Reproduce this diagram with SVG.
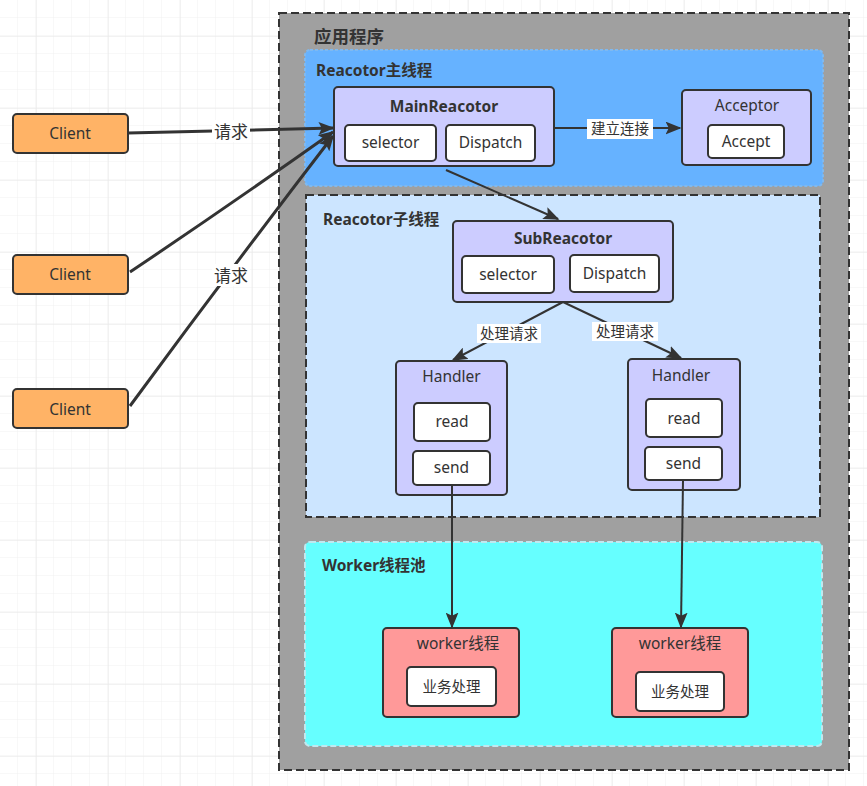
<svg xmlns="http://www.w3.org/2000/svg" width="867" height="786" viewBox="0 0 867 786">
<defs>
<pattern id="minor" width="18" height="18" patternUnits="userSpaceOnUse">
<path d="M18 0 V18 M0 18 H18" fill="none" stroke="#f0f0f0" stroke-width="1"/>
</pattern>
<pattern id="major" x="36" y="36" width="72" height="72" patternUnits="userSpaceOnUse">
<rect width="72" height="72" fill="url(#minor)"/>
<path d="M0 0 V72 M0 0 H72" fill="none" stroke="#e6e6e6" stroke-width="1"/>
</pattern>
<marker id="arrL" viewBox="0 0 10 8" refX="9" refY="4" markerWidth="16" markerHeight="13" markerUnits="userSpaceOnUse" orient="auto">
<path d="M0,0 L10,4 L0,8 L2,4 Z" fill="#333"/>
</marker>
</defs>
<style>
text{font-family:"Noto Sans","Noto Sans CJK SC",sans-serif;fill:#333;}
.t{font-size:15.5px;text-anchor:middle;}
.h{font-size:15.5px;font-weight:bold;}
.hc{font-size:15.5px;font-weight:bold;text-anchor:middle;}
.lb{font-size:14.5px;text-anchor:middle;}
.box{fill:#ccccff;stroke:#333;stroke-width:2;}
.wb{fill:#fff;stroke:#333;stroke-width:2;}
.cl{fill:#ffb366;stroke:#333;stroke-width:2;}
.wk{fill:#ff9999;stroke:#333;stroke-width:2;}
.ln{fill:none;stroke:#333;stroke-width:2;}
.lnt{fill:none;stroke:#333;stroke-width:3;}
</style>
<rect width="867" height="786" fill="#fff"/>
<rect width="867" height="786" fill="url(#major)"/>

<g id="app">
<rect x="279" y="13" width="570" height="757" fill="#a0a0a0" stroke="#333" stroke-width="2" stroke-dasharray="8 4"/>
<text x="314" y="43" class="h" style="font-size:17.5px">应用程序</text>
</g>

<g id="mainArea">
<rect x="305" y="50" width="518" height="136" rx="5" fill="#66b2ff" stroke="#7fb9f0" stroke-width="2" stroke-dasharray="3 2"/>
<text x="316" y="76" class="h">Reacotor主线程</text>
</g>

<g id="subArea">
<rect x="306" y="195" width="514" height="322" fill="#cce5ff" stroke="#333" stroke-width="2" stroke-dasharray="8 4"/>
<text x="323" y="225" class="h">Reacotor子线程</text>
</g>

<g id="workerArea">
<rect x="305" y="542" width="517" height="204" rx="5" fill="#66ffff" stroke="#bfe9ef" stroke-width="2" stroke-dasharray="6 3"/>
<text x="322" y="571" class="h">Worker线程池</text>
</g>

<g id="client1">
<rect x="13" y="114" width="115" height="39" rx="4" class="cl"/>
<text x="70" y="139" class="t">Client</text>
</g>
<g id="client2">
<rect x="13" y="255" width="115" height="39" rx="4" class="cl"/>
<text x="70" y="280" class="t">Client</text>
</g>
<g id="client3">
<rect x="13" y="389" width="115" height="39" rx="4" class="cl"/>
<text x="70" y="415" class="t">Client</text>
</g>

<g id="mainReactor">
<rect x="334" y="87" width="220" height="79" rx="4" class="box"/>
<text x="444" y="112" class="hc">MainReacotor</text>
<rect x="345" y="125" width="91" height="36" rx="4" class="wb"/>
<text x="390.5" y="148" class="t">selector</text>
<rect x="446" y="125" width="89" height="36" rx="4" class="wb"/>
<text x="490.5" y="148" class="t">Dispatch</text>
</g>

<g id="acceptor">
<rect x="682" y="90" width="129" height="75" rx="4" class="box"/>
<text x="747" y="111" class="t">Acceptor</text>
<rect x="708" y="125" width="76" height="33" rx="4" class="wb"/>
<text x="746" y="147" class="t">Accept</text>
</g>

<g id="subReactor">
<rect x="453" y="221" width="220" height="81" rx="4" class="box"/>
<text x="563" y="244" class="hc">SubReacotor</text>
<rect x="462" y="256" width="92" height="37" rx="4" class="wb"/>
<text x="508" y="280" class="t">selector</text>
<rect x="570" y="255" width="89" height="37" rx="4" class="wb"/>
<text x="614.5" y="279" class="t">Dispatch</text>
</g>

<g id="handler1">
<rect x="396" y="361" width="111" height="134" rx="4" class="box"/>
<text x="451.5" y="382" class="t">Handler</text>
<rect x="414" y="403" width="76" height="38" rx="4" class="wb"/>
<text x="452" y="427" class="t">read</text>
<rect x="413" y="451" width="77" height="34" rx="4" class="wb"/>
<text x="451.5" y="473" class="t">send</text>
</g>

<g id="handler2">
<rect x="628" y="359" width="112" height="131" rx="4" class="box"/>
<text x="681" y="381" class="t">Handler</text>
<rect x="646" y="399" width="76" height="38" rx="4" class="wb"/>
<text x="684" y="424" class="t">read</text>
<rect x="645" y="447" width="77" height="33" rx="4" class="wb"/>
<text x="683.5" y="469" class="t">send</text>
</g>

<g id="worker1">
<rect x="383" y="628" width="136" height="89" rx="4" class="wk"/>
<text x="458" y="649" class="t">worker线程</text>
<rect x="407" y="667" width="89" height="39" rx="4" class="wb"/>
<text x="451.5" y="692" class="lb">业务处理</text>
</g>

<g id="worker2">
<rect x="612" y="628" width="136" height="89" rx="4" class="wk"/>
<text x="680" y="649" class="t">worker线程</text>
<rect x="636" y="672" width="88" height="39" rx="4" class="wb"/>
<text x="680" y="697" class="lb">业务处理</text>
</g>

<g id="connectors">
<path d="M128 133 L333 128" class="lnt" marker-end="url(#arrL)"/>
<path d="M130 272 Q230 205 333 132" class="lnt" marker-end="url(#arrL)"/>
<path d="M130 406 Q230 270 333 136" class="lnt" marker-end="url(#arrL)"/>
<rect x="212" y="120" width="38" height="22" fill="#fff"/>
<text x="231" y="138" class="t" style="font-size:17px">请求</text>
<rect x="212" y="264" width="38" height="22" fill="#fff"/>
<text x="231" y="282" class="t" style="font-size:17px">请求</text>

<path d="M554 128 L680 128" class="ln" marker-end="url(#arrL)"/>
<rect x="587" y="119" width="66" height="20" fill="#fff"/>
<text x="620" y="134" class="lb">建立连接</text>

<path d="M446 170 L558 219" class="ln" marker-end="url(#arrL)"/>

<path d="M563 302 L453 360" class="ln" marker-end="url(#arrL)"/>
<rect x="477" y="324" width="64" height="19" fill="#fff"/>
<text x="509" y="339" class="lb">处理请求</text>
<path d="M563 302 L681 358" class="ln" marker-end="url(#arrL)"/>
<rect x="592" y="322" width="66" height="19" fill="#fff"/>
<text x="625" y="337" class="lb">处理请求</text>

<path d="M452 485 L452 627" class="ln" marker-end="url(#arrL)"/>
<path d="M683 480 L681 627" class="ln" marker-end="url(#arrL)"/>
</g>
</svg>
